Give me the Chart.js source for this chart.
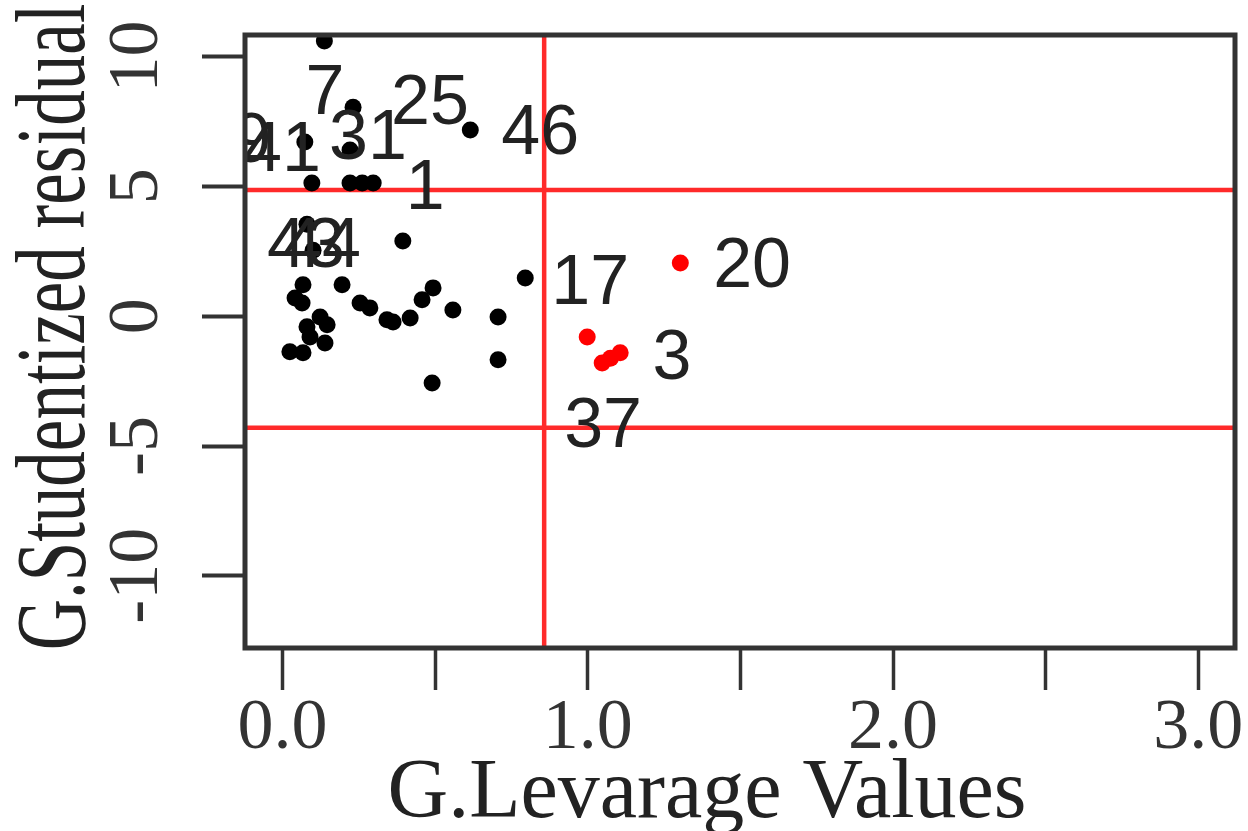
<!DOCTYPE html>
<html lang="en">
<head>
<meta charset="UTF-8">
<title>G.Studentized residual vs G.Levarage Values</title>
<script src="https://cdn.jsdelivr.net/npm/chart.js"></script>
<style>
  body { margin: 0; background: #fff; }
  canvas { display: block; }
</style>
</head>
<body>
<canvas id="chart" width="1248" height="831"></canvas>
<script>
// leverage (x) and studentized residual (y)
const blackX = [0.137, 0.231, 0.615, 0.073, 0.221, 0.096, 0.221, 0.261, 0.297,
                0.080, 0.100, 0.394, 0.795, 0.067, 0.064, 0.041, 0.123, 0.080,
                0.146, 0.090, 0.139, 0.024, 0.067, 0.195, 0.254, 0.286, 0.342,
                0.362, 0.418, 0.457, 0.493, 0.558, 0.706, 0.706, 0.490];
const blackY = [10.60, 8.05, 7.17, 6.71, 6.40, 5.13, 5.13, 5.13, 5.13,
                3.54, 2.54, 2.90, 1.47, 1.21, 0.51, 0.70, -0.03, -0.41,
                -0.33, -0.80, -1.03, -1.37, -1.41, 1.21, 0.51, 0.32, -0.14,
                -0.22, -0.07, 0.63, 1.09, 0.24, -0.03, -1.68, -2.57];
// influential cases (red)
const redX = [1.303, 0.998, 1.047, 1.074, 1.106];
const redY = [2.05, -0.80, -1.80, -1.62, -1.41];

// case numbers printed next to points (centre of the text, data units)
const labelText = ['7', '25', '46', '9', '41', '31', '1', '43', '44', '17', '20', '3', '37'];
const labelX = [0.139, 0.483, 0.844, -0.100, -0.002, 0.280, 0.467, 0.077, 0.129, 1.008, 1.538, 1.276, 1.050];
const labelY = [8.52, 8.14, 6.98, 6.67, 6.33, 6.79, 4.86, 2.63, 2.63, 1.21, 1.86, -1.68, -4.30];

// cut-off lines
const cutLeverage = 0.857;
const cutResid = [4.86, -4.30];

// axis ranges
const xRange = [-0.123, 3.12];
const yRange = [-12.78, 10.83];

const toPoints = (xs, ys) => xs.map((v, i) => ({ x: v, y: ys[i] }));

const decor = {
    id: 'decor',
    beforeDatasetsDraw(chart) {
        const { ctx, chartArea: a, scales: { x, y } } = chart;
        ctx.save();
        ctx.strokeStyle = '#ff2a2a';
        ctx.lineWidth = 4.5;
        ctx.beginPath();
        const px = x.getPixelForValue(cutLeverage);
        ctx.moveTo(px, a.top);
        ctx.lineTo(px, a.bottom);
        cutResid.forEach(v => {
            const py = y.getPixelForValue(v);
            ctx.moveTo(a.left, py);
            ctx.lineTo(a.right, py);
        });
        ctx.stroke();
        ctx.restore();
    },
    afterDatasetsDraw(chart) {
        const { ctx, chartArea: a, scales: { x, y } } = chart;
        // point labels, clipped to the plot box like R's text()
        ctx.save();
        ctx.beginPath();
        ctx.rect(a.left, a.top, a.right - a.left, a.bottom - a.top);
        ctx.clip();
        ctx.fillStyle = '#222';
        ctx.font = '70px "Liberation Sans"';
        ctx.textAlign = 'center';
        ctx.textBaseline = 'middle';
        labelText.forEach((t, i) => {
            ctx.fillText(t, x.getPixelForValue(labelX[i]), y.getPixelForValue(labelY[i]));
        });
        ctx.restore();

        // plot frame
        ctx.save();
        ctx.strokeStyle = '#333';
        ctx.lineWidth = 5;
        ctx.strokeRect(a.left, a.top, a.right - a.left, a.bottom - a.top);
        ctx.restore();
    },
    afterDraw(chart) {
        const { ctx } = chart;
        ctx.save();
        ctx.fillStyle = '#222';
        // x title
        ctx.font = '84px "Liberation Serif"';
        ctx.textAlign = 'center';
        ctx.textBaseline = 'alphabetic';
        ctx.fillText('G.Levarage Values', 707, 817);
        // y title, rotated and a bit wider like the source bitmap
        ctx.translate(84, 327);
        ctx.rotate(-Math.PI / 2);
        ctx.scale(1, 1.4);
        ctx.font = '71px "Liberation Serif"';
        ctx.fillText('G.Studentized residual', 0, 0);
        ctx.restore();
    }
};

new Chart(document.getElementById('chart'), {
    type: 'scatter',
    data: {
        datasets: [
            {
                data: toPoints(blackX, blackY),
                backgroundColor: '#000',
                borderWidth: 0,
                pointRadius: 8.5
            },
            {
                data: toPoints(redX, redY),
                backgroundColor: '#ff0000',
                borderWidth: 0,
                pointRadius: 8.5
            }
        ]
    },
    options: {
        responsive: false,
        animation: false,
        layout: { padding: { top: 35, right: 13, left: 0, bottom: 0 } },
        plugins: {
            legend: { display: false },
            tooltip: { enabled: false }
        },
        scales: {
            x: {
                type: 'linear',
                min: xRange[0],
                max: xRange[1],
                afterFit: s => {
                    s.height = 183;
                    s.paddingLeft = 0;
                    s.paddingRight = 0;
                },
                border: { display: false },
                grid: {
                    drawOnChartArea: false,
                    drawTicks: true,
                    tickLength: 42,
                    tickWidth: 3.5,
                    tickColor: '#333'
                },
                ticks: {
                    stepSize: 0.5,
                    includeBounds: false,
                    autoSkip: false,
                    maxRotation: 0,
                    padding: -4,
                    color: '#333',
                    font: { family: 'Liberation Serif', size: 72 },
                    callback: v => Number.isInteger(v) ? v.toFixed(1) : ''
                }
            },
            y: {
                type: 'linear',
                min: yRange[0],
                max: yRange[1],
                afterFit: s => {
                    s.width = 245;
                    s.paddingTop = 0;
                    s.paddingBottom = 0;
                },
                border: { display: false },
                grid: {
                    drawOnChartArea: false,
                    drawTicks: true,
                    tickLength: 43,
                    tickWidth: 4,
                    tickColor: '#333'
                },
                ticks: {
                    stepSize: 5,
                    includeBounds: false,
                    autoSkip: false,
                    minRotation: 90,
                    maxRotation: 90,
                    crossAlign: 'center',
                    padding: 16,
                    color: '#333',
                    font: { family: 'Liberation Serif', size: 72 },
                    callback: v => String(v)
                }
            }
        }
    },
    plugins: [decor]
});
</script>
</body>
</html>
